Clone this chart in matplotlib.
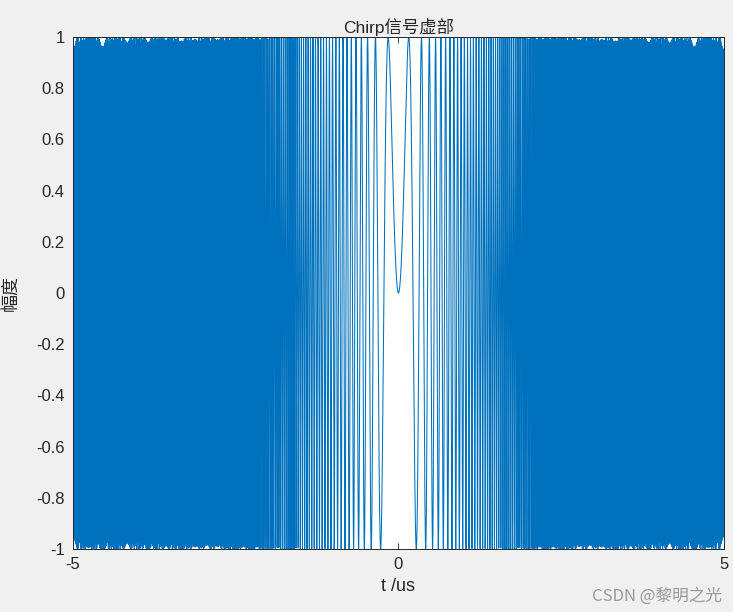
import numpy as np
import matplotlib
matplotlib.use('Agg')
from matplotlib import pyplot as plt

# chirp parameters (span 10 us, first peak at ~0.16 us)
T = 10.0          # pulse width, us
B = 200.0         # bandwidth, MHz
K = B / T         # chirp rate, MHz/us
Fs = 5 * B        # sample rate, MHz
N = int(T * Fs)

xticks = [-5, 0, 5]
yticks = [-1, -0.8, -0.6, -0.4, -0.2, 0, 0.2, 0.4, 0.6, 0.8, 1]
ytick_labels = ['-1', '-0.8', '-0.6', '-0.4', '-0.2', '0', '0.2', '0.4', '0.6', '0.8', '1']

t = np.linspace(-T / 2, T / 2, N)
st = np.exp(1j * np.pi * K * t ** 2)

plt.rcParams['font.family'] = ['Liberation Sans', 'Noto Sans CJK SC', 'DejaVu Sans']
plt.rcParams['axes.unicode_minus'] = False

fig = plt.figure(figsize=(7.33, 6.12), dpi=100, facecolor='#f0f0f0')
ax = fig.add_axes([0.0996, 0.1029, 0.888, 0.8366])
ax.plot(t, np.imag(st), color='#0072bd', lw=0.75)

ax.set_xlim(-5, 5)
ax.set_ylim(-1, 1)
ax.set_xticks(xticks)
ax.set_xticklabels([str(v) for v in xticks])
ax.set_yticks(yticks)
ax.set_yticklabels(ytick_labels)
ax.tick_params(direction='in', length=4, width=0.6, top=True, right=True,
               labelsize=12, colors='#262626', pad=6)
for s in ax.spines.values():
    s.set_color('#262626')
    s.set_linewidth(0.7)

ax.set_title('Chirp信号虚部', fontsize=12.5, color='#262626', pad=3,
             family=['Liberation Sans', 'Noto Sans CJK SC'])
ax.set_xlabel('t /us', fontsize=13, color='#262626', labelpad=4)
ax.set_ylabel('幅度', fontsize=13, color='#262626', labelpad=12,
              family=['Noto Sans CJK SC', 'DejaVu Sans'])

fig.text(0.985, 0.012, 'CSDN @黎明之光', ha='right', va='bottom', fontsize=12,
         color='#999999', family=['Noto Sans CJK SC', 'DejaVu Sans'])

fig.savefig('out.png', dpi=100, facecolor=fig.get_facecolor())
